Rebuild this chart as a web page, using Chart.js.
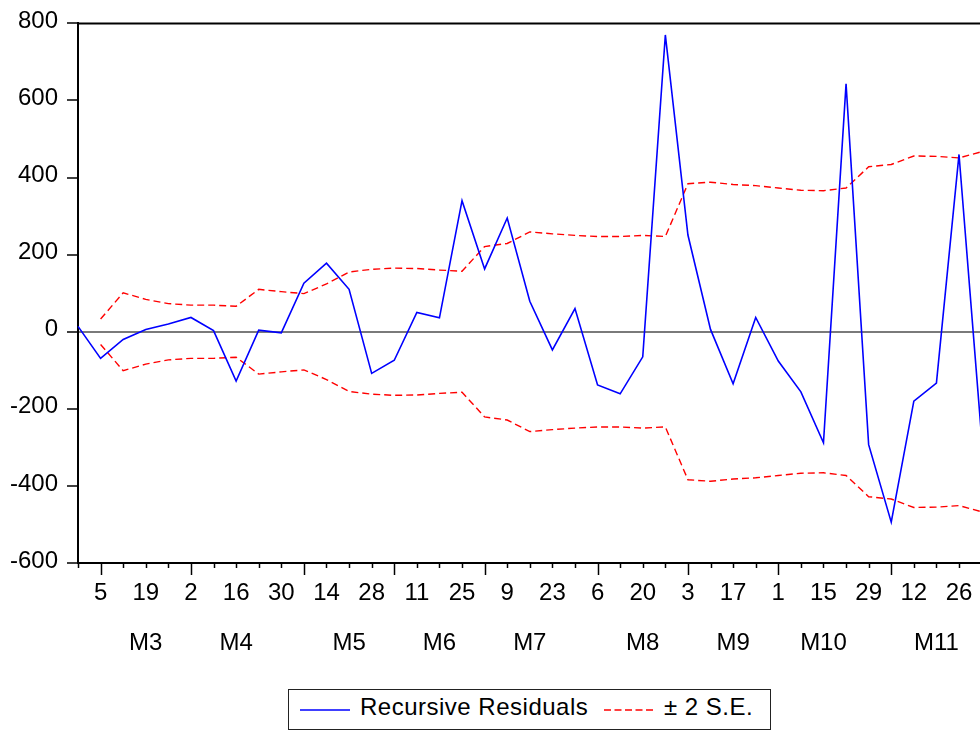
<!DOCTYPE html>
<html>
<head>
<meta charset="utf-8">
<script src="https://cdn.jsdelivr.net/npm/chart.js@4"></script>
<style>
  html, body { margin: 0; padding: 0; background: #fff; overflow: hidden; }
  #wrap { position: absolute; left: 0; top: 0; width: 1000px; height: 731px; }
  #legend {
    position: absolute; left: 288px; top: 689px; width: 483px; height: 41px;
    box-sizing: border-box; border: 1px solid #222; background: #fff;
    font: 24px "Liberation Sans", Arial, sans-serif; line-height: 24px; color: #000;
    letter-spacing: 0.5px;
  }
  #legend span { position: absolute; top: 5px; white-space: nowrap; }
  #legend svg { position: absolute; top: 15px; }
</style>
</head>
<body>
<div id="wrap"><canvas id="rrChart" width="1000" height="731"></canvas></div>
<div id="legend">
  <svg width="52" height="10" style="left:11px"><line x1="0" y1="5" x2="50" y2="5" stroke="#0000ff" stroke-width="1.5"/></svg>
  <span style="left:71px">Recursive Residuals</span>
  <svg width="52" height="10" style="left:315px"><line x1="0" y1="5" x2="49" y2="5" stroke="#ff0000" stroke-width="1.5" stroke-dasharray="7,3.5"/></svg>
  <span style="left:375px">± 2 S.E.</span>
</div>
<script>
// weekly observations, Feb 26 .. Dec 3
const weekMonth = [2, 3, 3, 3, 3, 4, 4, 4, 4, 4, 5, 5, 5, 5, 6, 6, 6, 6, 7, 7, 7,
  7, 7, 8, 8, 8, 8, 9, 9, 9, 9, 10, 10, 10, 10, 10, 11, 11, 11, 11, 12];
const weekDay = [26, 5, 12, 19, 26, 2, 9, 16, 23, 30, 7, 14, 21, 28, 4, 11, 18, 25, 2, 9, 16,
  23, 30, 6, 13, 20, 27, 3, 10, 17, 24, 1, 8, 15, 22, 29, 5, 12, 19, 26, 3];

// month captions and the observation they sit under
const monthNames = ['M3', 'M4', 'M5', 'M6', 'M7', 'M8', 'M9', 'M10', 'M11'];
const monthLabelAt = [3, 7, 12, 16, 20, 25, 29, 33, 38];

const residuals = [14, -69, -20, 6, 20, 37, 3, -128, 4, -3, 126, 178, 110, -108, -74, 50, 36,
  340, 163, 295, 79, -47, 60, -138, -161, -65, 770, 251, 6, -135, 37, -76, -156, -288, 643,
  -293, -494, -180, -133, 460, -274];

// two standard error band (plus / minus)
const twoSE = [null, 33, 101, 84, 73, 69, 69, 66, 110, 104, 99, 124, 155, 162, 165, 164, 160,
  157, 221, 229, 259, 254, 250, 247, 247, 250, 247, 384, 388, 382, 379, 373, 367, 366, 373,
  428, 434, 456, 455, 451, 467];

const yTicks = { min: -600, max: 800, step: 200 };

const FONT = '"Liberation Sans", Arial, sans-serif';
Chart.defaults.font.family = FONT;
Chart.defaults.color = '#000';

const labels = weekDay.map((d, i) => weekMonth[i] + '/' + d);

// frame on top and weekly tick marks under the date axis
const framePlugin = {
  id: 'frame',
  afterDraw(chart) {
    const c = chart.ctx;
    const area = chart.chartArea;
    const x = chart.scales.x;
    c.save();
    c.strokeStyle = '#000';
    c.lineWidth = 2;
    c.beginPath();
    c.moveTo(area.left - 1, area.top);
    c.lineTo(area.right, area.top);
    c.stroke();
    c.lineWidth = 1.5;
    for (let i = 0; i < weekDay.length; i++) {
      const px = Math.round(x.getPixelForValue(i)) + 0.5;
      const len = weekDay[i] <= 7 ? 12 : 5;
      c.beginPath();
      c.moveTo(px, area.bottom);
      c.lineTo(px, area.bottom + len);
      c.stroke();
    }
    c.restore();
  }
};

const ctx = document.getElementById('rrChart').getContext('2d');
new Chart(ctx, {
  type: 'line',
  data: {
    labels: labels,
    datasets: [
      {
        label: 'Recursive Residuals',
        data: residuals,
        borderColor: '#0000ff',
        borderWidth: 1.6,
        pointRadius: 0,
        tension: 0
      },
      {
        label: '± 2 S.E.',
        data: twoSE,
        borderColor: '#ff0000',
        borderWidth: 1.4,
        borderDash: [7, 4],
        pointRadius: 0,
        tension: 0
      },
      {
        label: '- 2 S.E.',
        data: twoSE.map(v => (v === null ? null : -v)),
        borderColor: '#ff0000',
        borderWidth: 1.4,
        borderDash: [7, 4],
        pointRadius: 0,
        tension: 0
      }
    ]
  },
  options: {
    responsive: false,
    animation: false,
    layout: { padding: { top: 21, right: 18.4, left: 0, bottom: 0 } },
    plugins: { legend: { display: false }, tooltip: { enabled: false } },
    scales: {
      x: {
        type: 'category',
        position: 'bottom',
        offset: false,
        grid: { display: true, drawOnChartArea: false, drawTicks: false },
        border: { display: true, color: '#000', width: 2 },
        ticks: {
          autoSkip: false, maxRotation: 0, minRotation: 0, padding: 16,
          font: { size: 24 }, color: '#000',
          callback: (v, i) => (i % 2 === 1 ? String(weekDay[i]) : '')
        },
        afterFit: s => { s.height = 50; }
      },
      xm: {
        type: 'category',
        position: 'bottom',
        offset: false,
        labels: labels,
        grid: { display: false },
        border: { display: false },
        ticks: {
          autoSkip: false, maxRotation: 0, minRotation: 0, padding: 8,
          font: { size: 24 }, color: '#000',
          callback: (v, i) => {
            const k = monthLabelAt.indexOf(i);
            return k >= 0 ? monthNames[k] : '';
          }
        },
        afterFit: s => { s.height = 731 - 563 - 50; }
      },
      y: {
        min: yTicks.min,
        max: yTicks.max,
        ticks: { stepSize: yTicks.step, padding: 9, labelOffset: -2, font: { size: 24 }, color: '#000' },
        grid: {
          drawOnChartArea: true,
          color: c => (c.tick && c.tick.value === 0 ? '#7a7a7a' : 'rgba(0,0,0,0)'),
          lineWidth: 2,
          tickLength: 11,
          tickColor: '#000',
          tickWidth: 1.5
        },
        border: { display: true, color: '#000', width: 2 },
        afterFit: s => { s.width = 78; }
      }
    }
  },
  plugins: [framePlugin]
});
</script>
</body>
</html>
